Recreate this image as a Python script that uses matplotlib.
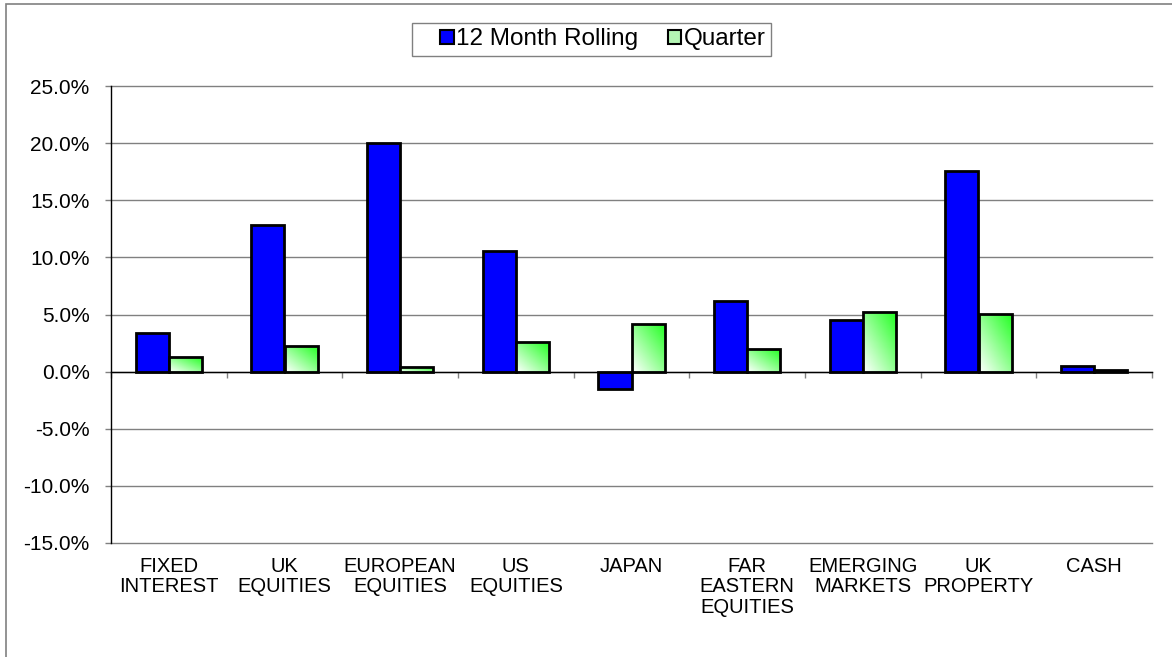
import numpy as np
import matplotlib
matplotlib.use('Agg')
import matplotlib.pyplot as plt
from matplotlib.colors import LinearSegmentedColormap
from matplotlib.patches import Patch, Rectangle
from matplotlib.legend_handler import HandlerPatch
from matplotlib.ticker import FuncFormatter

plt.rcParams['font.family'] = ['Liberation Sans', 'DejaVu Sans']

categories = ['FIXED\nINTEREST', 'UK\nEQUITIES', 'EUROPEAN\nEQUITIES', 'US\nEQUITIES', 'JAPAN',
              'FAR\nEASTERN\nEQUITIES', 'EMERGING\nMARKETS', 'UK\nPROPERTY', 'CASH']
rolling_12m = [3.35, 12.8, 20.0, 10.6, -1.55, 6.2, 4.5, 17.6, 0.47]
quarter = [1.25, 2.2, 0.38, 2.6, 4.2, 1.95, 5.25, 5.05, 0.1]
series_names = ['12 Month Rolling', 'Quarter']
y_ticks = [-15, -10, -5, 0, 5, 10, 15, 20, 25]

W, H = 1172, 657
fig = plt.figure(figsize=(W / 100, H / 100), dpi=100)
ax = fig.add_axes([111 / W, 1 - 543 / H, (1152 - 111) / W, (543 - 86) / H])

# outer chart frame (clipped at right and bottom like the original)
fig.patches.append(Rectangle((6 / W, -0.1), 1.2, 1 - 4 / H + 0.1, transform=fig.transFigure,
                             fill=False, edgecolor='#808080', linewidth=1.2))

x = np.arange(len(categories))
bw = 1 / 3.5
blue_bars = ax.bar(x - bw / 2, rolling_12m, bw, color='#0000ff', edgecolor='black',
                   linewidth=2.0, zorder=3)
green_bars = ax.bar(x + bw / 2, quarter, bw, color='none', edgecolor='black',
                    linewidth=2.0, zorder=4)

# diagonal white -> green gradient inside the quarter bars
cmap = LinearSegmentedColormap.from_list('wg', ['#ffffff', '#22ff22'])
gx, gy = np.meshgrid(np.linspace(0, 1, 50), np.linspace(0, 1, 50))
grad = (gx + gy) / 2
for b in green_bars:
    x0, y0 = b.get_x(), b.get_y()
    w, h = b.get_width(), b.get_height()
    im = ax.imshow(grad, cmap=cmap, origin='lower', aspect='auto',
                   extent=[x0, x0 + w, y0, y0 + h], zorder=3.5)
    im.set_clip_path(b)
ax.set_xlim(-0.5, len(categories) - 0.5)
ax.set_ylim(-15, 25)

# axes styling
for side in ['top', 'right']:
    ax.spines[side].set_visible(False)
ax.spines['left'].set_color('black')
ax.spines['left'].set_linewidth(1.0)
ax.spines['bottom'].set_position(('data', 0))
ax.spines['bottom'].set_color('black')
ax.spines['bottom'].set_linewidth(1.0)
ax.spines['bottom'].set_zorder(5)

ax.set_yticks(y_ticks)
ax.yaxis.set_major_formatter(FuncFormatter(lambda v, p: f'{v:.1f}%'))
ax.tick_params(axis='y', length=4.3, width=1, color='#808080', pad=11, labelsize=15)
ax.yaxis.grid(True, color='#808080', linewidth=1.0)
for gl in ax.get_ygridlines():
    gl.set_clip_on(False)
ax.set_axisbelow(True)

ax.set_xticks(np.arange(len(categories) + 1) - 0.5)
ax.set_xticklabels([])
ax.tick_params(axis='x', length=4.3, width=1, color='#808080', direction='out')

for xi, lab in zip(x, categories):
    ax.text(xi, -0.03, lab, transform=ax.get_xaxis_transform(), ha='center', va='top',
            fontsize=14.5, linespacing=1.1)


def small_square(legend, orig_handle, xdescent, ydescent, width, height, fontsize):
    s = 0.55 * fontsize
    return Rectangle((-xdescent + width - s, -ydescent + (height - s) / 2), s, s)


handles = [Patch(facecolor='#0000ff', edgecolor='black', linewidth=1.5),
           Patch(facecolor='#b4f5b4', edgecolor='black', linewidth=1.5)]
leg = fig.legend(handles, series_names, loc='upper center', bbox_to_anchor=(591.5 / W, 1 - 23 / H),
                 ncol=2, fancybox=False, edgecolor='#606060', fontsize=17.5, handlelength=1.5,
                 handleheight=0.7, handletextpad=0.12, columnspacing=0.25, borderaxespad=0,
                 borderpad=0.22, handler_map={Patch: HandlerPatch(patch_func=small_square)})
leg.get_frame().set_linewidth(1.0)

fig.savefig('out.png', dpi=100)
